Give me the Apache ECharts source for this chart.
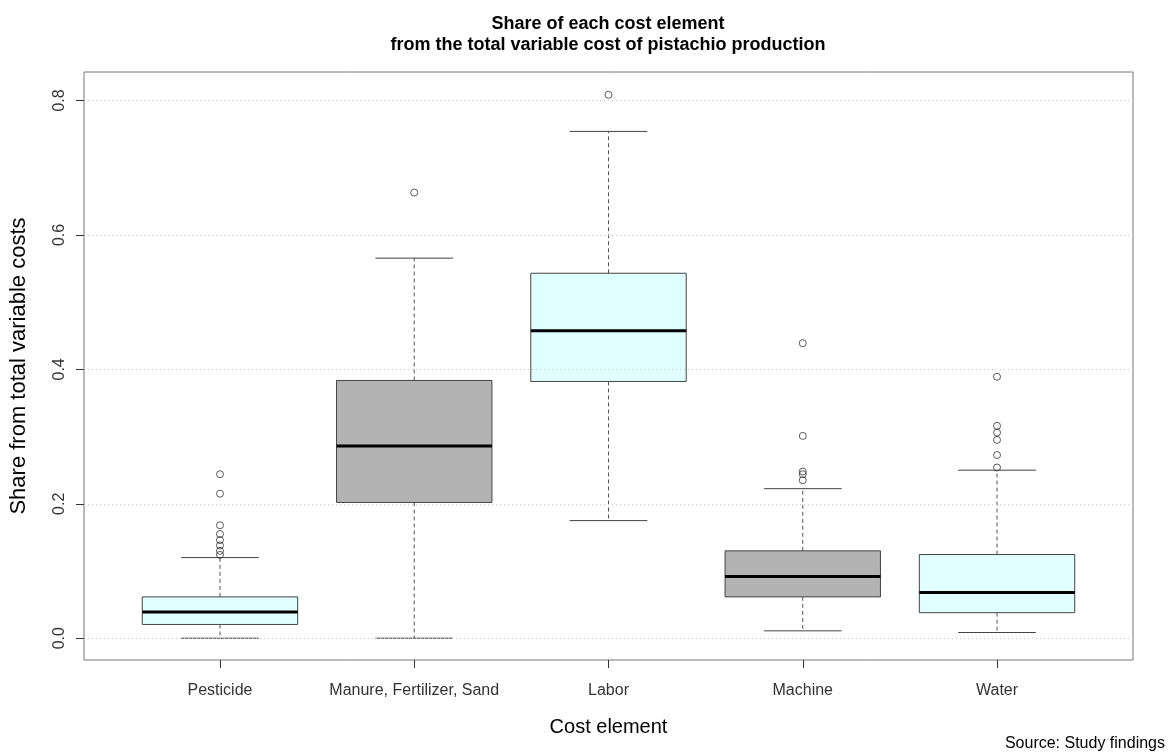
<!DOCTYPE html>
<html>
<head>
<meta charset="utf-8">
<script src="https://cdn.jsdelivr.net/npm/echarts@6/dist/echarts.min.js"></script>
<style>
html,body{margin:0;padding:0;background:#fff;}
#chart{width:1168px;height:756px;}
</style>
</head>
<body>
<div id="chart"></div>
<script>
// ---- data ----
const categories = ['Pesticide', 'Manure, Fertilizer, Sand', 'Labor', 'Machine', 'Water'];
const whiskerLow  = [0.000, 0.000, 0.175, 0.011, 0.0085];
const quartile1   = [0.0205, 0.202, 0.382, 0.0615, 0.038];
const medians     = [0.039, 0.286, 0.4575, 0.092, 0.068];
const quartile3   = [0.0615, 0.3835, 0.543, 0.130, 0.1245];
const whiskerHigh = [0.120, 0.5655, 0.754, 0.2225, 0.250];
const outliers = [
  [0.244, 0.215, 0.168, 0.155, 0.146, 0.138, 0.130, 0.124],
  [0.663],
  [0.8085],
  [0.439, 0.301, 0.248, 0.244, 0.235],
  [0.389, 0.316, 0.306, 0.295, 0.2725, 0.254]
];
const yTicks = [0, 0.2, 0.4, 0.6, 0.8];
const xTicks = [1, 2, 3, 4, 5];

// ---- styles ----
const boxColors = ['#E0FFFF', '#B3B3B3', '#E0FFFF', '#B3B3B3', '#E0FFFF'];
const FONT = '"Liberation Sans", Arial, Helvetica, sans-serif';

const boxData = categories.map((c, i) => [xTicks[i], whiskerLow[i], quartile1[i], medians[i], quartile3[i], whiskerHigh[i]]);
const outlierData = [];
outliers.forEach((arr, i) => arr.forEach(v => outlierData.push([xTicks[i], v])));

const chart = echarts.init(document.getElementById('chart'), null, {renderer: 'canvas'});

function renderBox(params, api) {
  const x = api.value(0);
  const lo = api.value(1), q1 = api.value(2), med = api.value(3), q3 = api.value(4), hi = api.value(5);
  const halfW = api.size([0.4, 0])[0];
  const capW = api.size([0.2, 0])[0];
  const pLo = api.coord([x, lo]), pQ1 = api.coord([x, q1]), pMed = api.coord([x, med]);
  const pQ3 = api.coord([x, q3]), pHi = api.coord([x, hi]);
  const cx = pLo[0];
  const lineCol = '#444';
  return {
    type: 'group',
    children: [
      {type: 'line', shape: {x1: cx, y1: pQ3[1], x2: cx, y2: pHi[1]}, style: {stroke: '#555', lineWidth: 1, lineDash: [4, 3]}},
      {type: 'line', shape: {x1: cx, y1: pQ1[1], x2: cx, y2: pLo[1]}, style: {stroke: '#555', lineWidth: 1, lineDash: [4, 3]}},
      {type: 'line', shape: {x1: cx - capW, y1: pHi[1], x2: cx + capW, y2: pHi[1]}, style: {stroke: lineCol, lineWidth: 1}},
      {type: 'line', shape: {x1: cx - capW, y1: pLo[1], x2: cx + capW, y2: pLo[1]}, style: {stroke: lineCol, lineWidth: 1}},
      {type: 'rect', shape: {x: cx - halfW, y: pQ3[1], width: 2 * halfW, height: pQ1[1] - pQ3[1]},
        style: {fill: boxColors[params.dataIndex], stroke: lineCol, lineWidth: 1}},
      {type: 'line', shape: {x1: cx - halfW, y1: pMed[1], x2: cx + halfW, y2: pMed[1]}, style: {stroke: '#000', lineWidth: 3}}
    ]
  };
}

const option = {
  backgroundColor: '#ffffff',
  animation: false,
  title: {
    text: 'Share of each cost element\nfrom the total variable cost of pistachio production',
    left: 608,
    top: 14,
    textAlign: 'center',
    padding: 0,
    textStyle: {fontFamily: FONT, fontSize: 18, fontWeight: 'bold', color: '#000', lineHeight: 21}
  },
  grid: {
    left: 84, top: 72, width: 1049, height: 588,
    show: true, borderColor: '#777', borderWidth: 1, backgroundColor: 'transparent',
    containLabel: false, outerBoundsMode: 'none'
  },
  xAxis: {
    type: 'value',
    min: 0.3, max: 5.7,
    name: 'Cost element',
    nameLocation: 'middle',
    nameGap: 57,
    nameTextStyle: {fontFamily: FONT, fontSize: 20, color: '#000'},
    axisLine: {show: false, onZero: false},
    splitLine: {show: false},
    axisTick: {show: true, length: 8, lineStyle: {color: '#333'}, customValues: xTicks},
    axisLabel: {
      customValues: xTicks, margin: 23,
      fontFamily: FONT, fontSize: 16, color: '#333',
      formatter: v => categories[Math.round(v) - 1] || ''
    }
  },
  yAxis: {
    type: 'value',
    min: -0.0324, max: 0.8424,
    name: 'Share from total variable costs',
    nameLocation: 'middle',
    nameRotate: 90,
    nameGap: 54,
    nameTextStyle: {fontFamily: FONT, fontSize: 22, color: '#000'},
    axisLine: {show: false, onZero: false},
    splitLine: {show: false},
    axisTick: {show: true, length: 8, lineStyle: {color: '#333'}, customValues: yTicks},
    axisLabel: {
      customValues: yTicks, rotate: 90, margin: 16,
      fontFamily: FONT, fontSize: 16, color: '#333',
      formatter: v => v.toFixed(1)
    }
  },
  graphic: [{
    type: 'text', right: 3, bottom: 4,
    style: {text: 'Source: Study findings', fontFamily: FONT, fontSize: 16, fill: '#000'}
  }],
  series: [
    {
      type: 'line', data: [], silent: true, z: 1,
      markLine: {
        silent: true, symbol: 'none', label: {show: false},
        lineStyle: {color: '#C8C8C8', width: 1, type: [1, 3]},
        emphasis: {disabled: true},
        data: yTicks.map(v => ({yAxis: v}))
      }
    },
    {
      type: 'custom', renderItem: renderBox, data: boxData, z: 3,
      encode: {x: 0, y: [1, 2, 3, 4, 5]}
    },
    {
      type: 'scatter', data: outlierData, z: 4,
      symbol: 'circle', symbolSize: 7,
      itemStyle: {color: 'rgba(255,255,255,0)', borderColor: '#333', borderWidth: 1}
    }
  ]
};
chart.setOption(option);
</script>
</body>
</html>
